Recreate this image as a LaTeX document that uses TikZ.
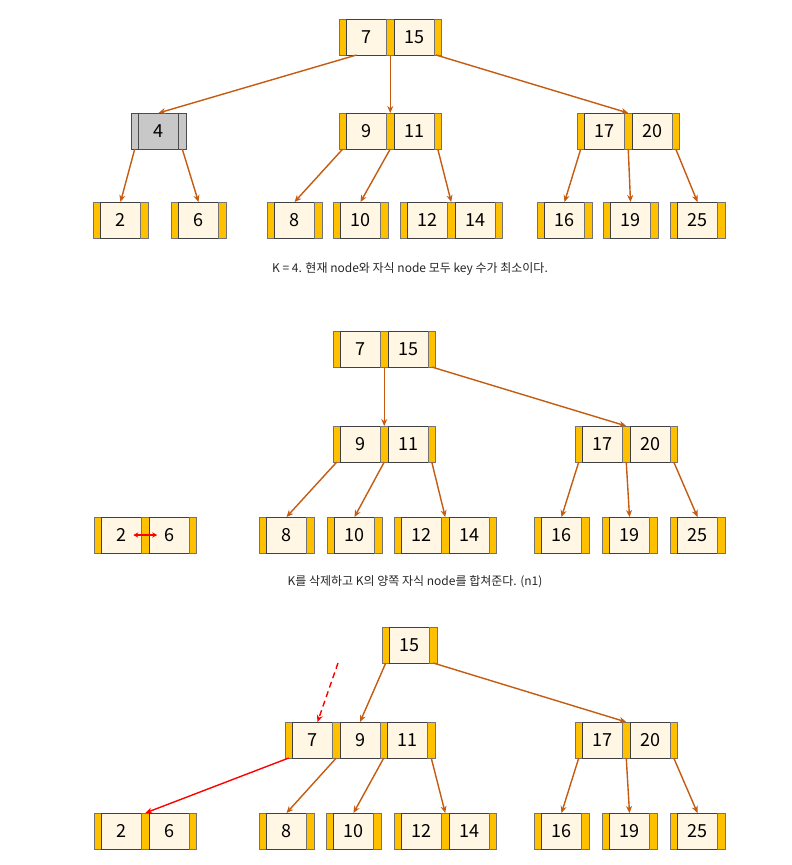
\documentclass[tikz,border=0pt]{standalone}
\usepackage{fontspec}
\setmainfont{Noto Sans CJK KR}
\usetikzlibrary{arrows.meta}

\definecolor{slotyellow}{HTML}{FFC000}
\definecolor{keycream}{HTML}{FFF7E4}
\definecolor{edgebrown}{HTML}{C55A11}
\definecolor{keygray}{HTML}{C8C8C8}

\tikzset{
  slot/.style={draw=black!55, fill=slotyellow, line width=0.9pt, minimum width=7.5pt,
    minimum height=36pt, inner sep=0pt, outer sep=0pt, anchor=north west},
  keycell/.style={draw=black!75, fill=keycream, line width=0.9pt, minimum width=40pt,
    minimum height=36pt, inner sep=0pt, outer sep=0pt, anchor=north west,
    font=\fontsize{18}{20}\selectfont},
  grayed/.style={fill=keygray, draw=black!70},
  ptr/.style={draw=edgebrown, line width=1.4pt, -{Stealth[length=7pt,width=6pt]}},
  redptr/.style={draw=red, line width=1.4pt, -{Stealth[length=7pt,width=6pt]}},
  caption/.style={font=\fontsize{12}{14}\selectfont, text=black!85}
}

% b-tree node: slots and keys side by side
\newcommand{\btnode}[5][]{%
  \node[slot,#1] (#2-s0) at (#3,#4) {};
  \foreach \k [count=\i, remember=\i as \j (initially 0)] in {#5} {
    \node[keycell,#1] (#2-k\i) at (#2-s\j.north east) {\k};
    \node[slot,#1] (#2-s\i) at (#2-k\i.north east) {};
  }%
}

\begin{document}
\begin{tikzpicture}[x=1pt,y=-1pt]
    \useasboundingbox (0,0) rectangle (792,865);

    % first tree
    \btnode{rootA}{339}{19}{7,15}
    \btnode[grayed]{n4A}{131}{113}{4}
    \btnode{n9A}{339}{113}{9,11}
    \btnode{n17A}{577}{113}{17,20}
    \btnode{n2A}{93}{202}{2}
    \btnode{n6A}{171}{202}{6}
    \btnode{n8A}{267}{202}{8}
    \btnode{n10A}{333}{202}{10}
    \btnode{n12A}{400}{202}{12,14}
    \btnode{n16A}{537}{202}{16}
    \btnode{n19A}{603}{202}{19}
    \btnode{n25A}{670}{202}{25}

    \draw[ptr] ([xshift=10pt]rootA-s0.south east) -- (n4A-k1.north);
    \draw[ptr] (rootA-s1.south) -- (n9A-s1.north);
    \draw[ptr] ([xshift=2pt]rootA-s2.south west) -- (n17A-s1.north);
    \draw[ptr] (n4A-s0.south) -- (n2A-k1.north);
    \draw[ptr] (n4A-s1.south) -- (n6A-k1.north);
    \draw[ptr] (n9A-s0.south) -- (n8A-k1.north);
    \draw[ptr] (n9A-s1.south) -- (n10A-k1.north);
    \draw[ptr] (n9A-s2.south) -- (n12A-s1.north);
    \draw[ptr] (n17A-s0.south) -- (n16A-k1.north);
    \draw[ptr] (n17A-s1.south) -- (n19A-k1.north);
    \draw[ptr] (n17A-s2.south) -- (n25A-k1.north);

    \node[caption] (capA) at (410,269) {K = 4. 현재 node와 자식 node 모두 key 수가 최소이다.};

    % second tree
    \btnode{rootB}{333}{331}{7,15}
    \btnode{n9B}{333}{426}{9,11}
    \btnode{n17B}{575}{426}{17,20}
    \btnode{n2B}{94}{517}{2,6}
    \btnode{n8B}{259}{517}{8}
    \btnode{n10B}{327}{517}{10}
    \btnode{n12B}{394}{517}{12,14}
    \btnode{n16B}{534}{517}{16}
    \btnode{n19B}{602}{517}{19}
    \btnode{n25B}{670}{517}{25}

    \draw[ptr] (rootB-s1.south) -- (n9B-s1.north);
    \draw[ptr] (rootB-s2.south) -- (n17B-s1.north);
    \draw[ptr] (n9B-s0.south) -- (n8B-k1.north);
    \draw[ptr] (n9B-s1.south) -- (n10B-k1.north);
    \draw[ptr] (n9B-s2.south) -- (n12B-s1.north);
    \draw[ptr] (n17B-s0.south) -- (n16B-k1.north);
    \draw[ptr] (n17B-s1.south) -- (n19B-k1.north);
    \draw[ptr] (n17B-s2.south) -- (n25B-k1.north);
    \draw[red, line width=1.6pt, {Stealth[length=5pt,width=5pt]}-{Stealth[length=5pt,width=5pt]}]
        ([xshift=-12pt]n2B-s1.center) -- ([xshift=12pt]n2B-s1.center);

    \node[caption] (capB) at (415,582) {K를 삭제하고 K의 양쪽 자식 node를 합쳐준다. (n1)};

    % third tree
    \btnode{rootC}{382}{627}{15}
    \btnode{n7C}{285}{722}{7,9,11}
    \btnode{n17C}{575}{722}{17,20}
    \btnode{n2C}{94}{813}{2,6}
    \btnode{n8C}{259}{813}{8}
    \btnode{n10C}{326}{813}{10}
    \btnode{n12C}{394}{813}{12,14}
    \btnode{n16C}{534}{813}{16}
    \btnode{n19C}{602}{813}{19}
    \btnode{n25C}{670}{813}{25}

    \coordinate (dropC) at (338,663);
    \draw[ptr] (rootC-s0.south) -- (n7C-k2.north);
    \draw[ptr] (rootC-s1.south) -- (n17C-s1.north);
    \draw[redptr, dash pattern=on 6pt off 4pt] (dropC) -- ([xshift=5pt]n7C-k1.north);
    \draw[redptr] (n7C-s0.south) -- (n2C-s1.north);
    \draw[ptr] (n7C-s1.south) -- (n8C-k1.north);
    \draw[ptr] (n7C-s2.south) -- (n10C-k1.north);
    \draw[ptr] (n7C-s3.south) -- (n12C-s1.north);
    \draw[ptr] (n17C-s0.south) -- (n16C-k1.north);
    \draw[ptr] (n17C-s1.south) -- (n19C-k1.north);
    \draw[ptr] (n17C-s2.south) -- (n25C-k1.north);
\end{tikzpicture}
\end{document}
